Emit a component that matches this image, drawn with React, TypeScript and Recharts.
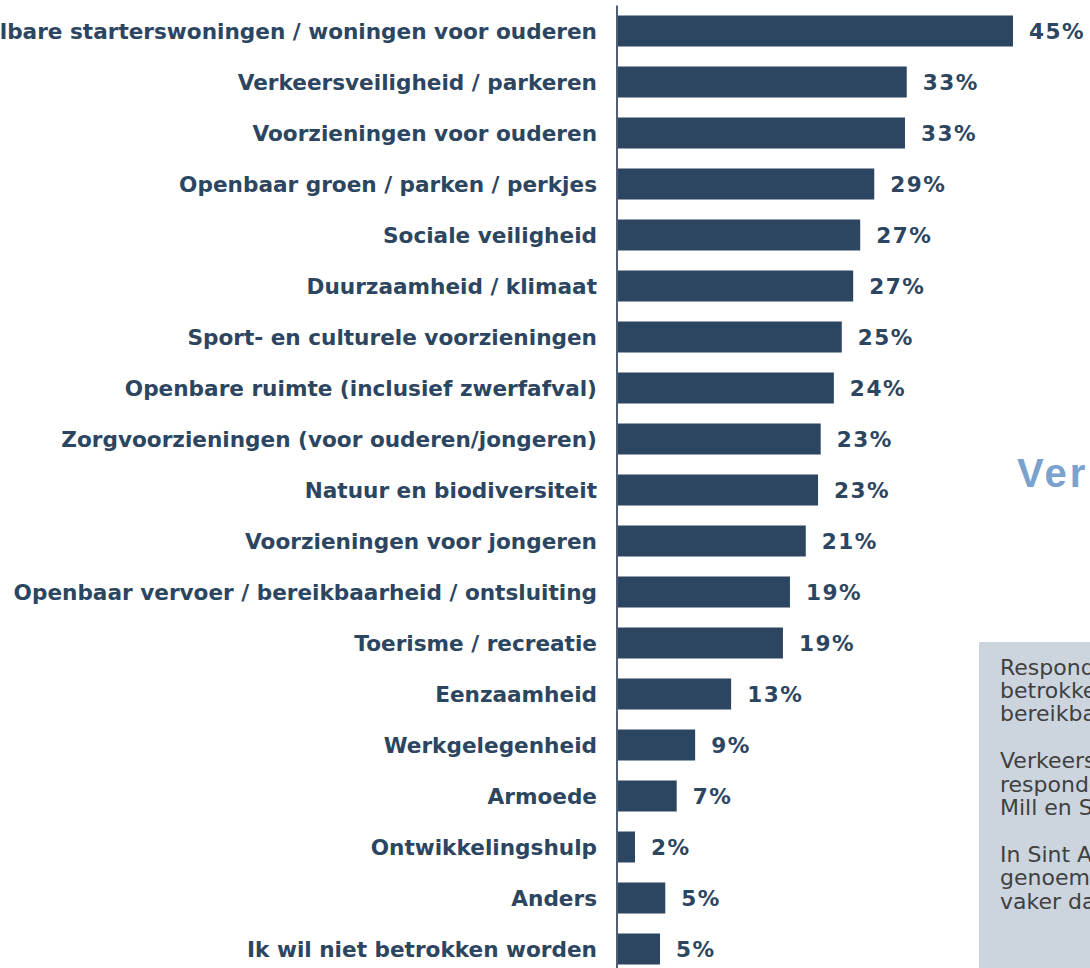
import React from "react";
import { BarChart, Bar, XAxis, YAxis, LabelList } from "recharts";

const categories = [
  "Betaalbare starterswoningen / woningen voor ouderen",
  "Verkeersveiligheid / parkeren",
  "Voorzieningen voor ouderen",
  "Openbaar groen / parken / perkjes",
  "Sociale veiligheid",
  "Duurzaamheid / klimaat",
  "Sport- en culturele voorzieningen",
  "Openbare ruimte (inclusief zwerfafval)",
  "Zorgvoorzieningen (voor ouderen/jongeren)",
  "Natuur en biodiversiteit",
  "Voorzieningen voor jongeren",
  "Openbaar vervoer / bereikbaarheid / ontsluiting",
  "Toerisme / recreatie",
  "Eenzaamheid",
  "Werkgelegenheid",
  "Armoede",
  "Ontwikkelingshulp",
  "Anders",
  "Ik wil niet betrokken worden",
];

const values = [45.1, 33.0, 32.8, 29.3, 27.7, 26.9, 25.6, 24.7, 23.2, 22.9, 21.5, 19.7, 18.9, 13.0, 8.9, 6.8, 2.05, 5.5, 4.9];

const valueLabels = ["45%", "33%", "33%", "29%", "27%", "27%", "25%", "24%", "23%", "23%", "21%", "19%", "19%", "13%", "9%", "7%", "2%", "5%", "5%"];

const noteLines = [
  "Respondenten willen het vaakst",
  "betrokken worden bij woningbouw en",
  "bereikbaarheid in de gemeente.",
  "",
  "Verkeersveiligheid wordt door",
  "respondenten uit de kernen",
  "Mill en Sint Hubert vaker genoemd.",
  "",
  "In Sint Agatha wordt dit onderwerp",
  "genoemd door respondenten die",
  "vaker dan gemiddeld betrokken zijn.",
];

const heading = "Verkeersveiligheid";

const data = categories.map((name, i) => ({ name, value: values[i], label: valueLabels[i] }));

const NAVY = "#2c4560";

export default function App() {
  return (
    <div
      style={{
        position: "absolute",
        left: 0,
        top: 0,
        width: 1090,
        height: 968,
        overflow: "hidden",
        background: "#ffffff",
      }}
    >
      <BarChart
        layout="vertical"
        width={1090}
        height={980}
        data={data}
        margin={{ top: 5.5, right: 34, bottom: 5.5, left: 0 }}
        barSize={31}
      >
        <XAxis type="number" domain={[0, 50]} hide />
        <YAxis
          type="category"
          dataKey="name"
          width={617}
          axisLine={{ stroke: "#4f5f74", strokeWidth: 2 }}
          tickLine={false}
          tickMargin={14}
          interval={0}
          tick={{
            fill: NAVY,
            fontSize: 21.6,
            fontWeight: "bold",
            fontFamily: "DejaVu Sans, Verdana, sans-serif",
          }}
        />
        <Bar dataKey="value" fill={NAVY} isAnimationActive={false}>
          <LabelList
            dataKey="label"
            position="right"
            offset={16}
            fill={NAVY}
            fontSize={21.6}
            fontWeight="bold"
            letterSpacing={1.5}
            fontFamily="DejaVu Sans, Verdana, sans-serif"
          />
        </Bar>
      </BarChart>

      <div
        style={{
          position: "absolute",
          left: 1017,
          top: 453,
          fontFamily: "'Liberation Sans', Arial, sans-serif",
          fontWeight: "bold",
          fontSize: 40,
          letterSpacing: 3,
          lineHeight: 1,
          color: "#7aa2cc",
          whiteSpace: "nowrap",
        }}
      >
        {heading}
      </div>

      <div
        style={{
          position: "absolute",
          left: 979,
          top: 642,
          width: 111,
          height: 326,
          background: "#ccd4de",
          boxSizing: "border-box",
          paddingLeft: 21,
          paddingTop: 13.7,
          fontFamily: "DejaVu Sans, Verdana, sans-serif",
          fontSize: 22,
          lineHeight: "23.4px",
          color: "#404040",
          whiteSpace: "nowrap",
          overflow: "hidden",
        }}
      >
        {noteLines.map((l, i) => (
          <div key={i} style={{ height: 23.4 }}>
            {l}
          </div>
        ))}
      </div>
    </div>
  );
}
